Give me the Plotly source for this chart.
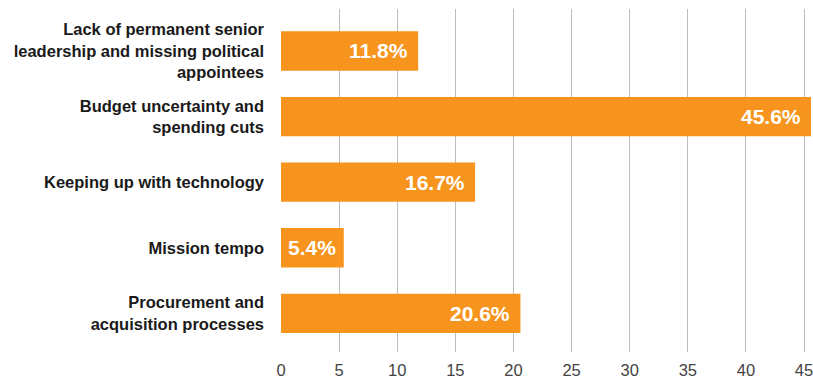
import plotly.graph_objects as go

categories = [
    "Lack of permanent senior<br>leadership and missing political<br>appointees",
    "Budget uncertainty and<br>spending cuts",
    "Keeping up with technology",
    "Mission tempo",
    "Procurement and<br>acquisition processes",
]
values = [11.8, 45.6, 16.7, 5.4, 20.6]
labels = ["11.8%", "45.6%", "16.7%", "5.4%", "20.6%"]
x_ticks = [0, 5, 10, 15, 20, 25, 30, 35, 40, 45]

BAR = "#F7941D"
FONT = "Liberation Sans, Arial, sans-serif"

fig = go.Figure(go.Bar(
    x=values, y=categories, orientation="h",
    marker=dict(color=BAR, line=dict(width=0)),
    hoverinfo="skip",
))

annotations = []
for v, t, c in zip(values, labels, categories):
    if v < 8:
        annotations.append(dict(x=v / 2, y=c, xref="x", yref="y", text=t,
                                showarrow=False, xanchor="center",
                                font=dict(family=FONT, size=21, color="white", weight="bold")))
    else:
        annotations.append(dict(x=v, y=c, xref="x", yref="y", text=t,
                                showarrow=False, xanchor="right", xshift=-8,
                                font=dict(family=FONT, size=21, color="white", weight="bold")))

fig.update_layout(
    width=813, height=379,
    margin=dict(l=281, r=0, t=9, b=25),
    paper_bgcolor="white", plot_bgcolor="white",
    bargap=0.4,
    showlegend=False,
    annotations=annotations,
    xaxis=dict(
        range=[0, 45.6], tickvals=x_ticks, ticktext=[str(t) for t in x_ticks],
        showgrid=True, gridcolor="#BDBDBD", gridwidth=1, zeroline=False,
        showline=False, ticks="outside", ticklen=3, tickcolor="rgba(0,0,0,0)",
        tickfont=dict(family=FONT, size=16.5, color="#444444"),
        ticklabeloverflow="allow",
        fixedrange=True,
    ),
    yaxis=dict(
        categoryorder="array", categoryarray=categories,
        range=[4.59, -0.64], showgrid=False, zeroline=False, showline=False,
        ticks="", ticklabelstandoff=16,
        tickfont=dict(family=FONT, size=16.5, color="#1a1a1a", weight="bold"),
        fixedrange=True,
    ),
)

fig.write_html("out.html")
